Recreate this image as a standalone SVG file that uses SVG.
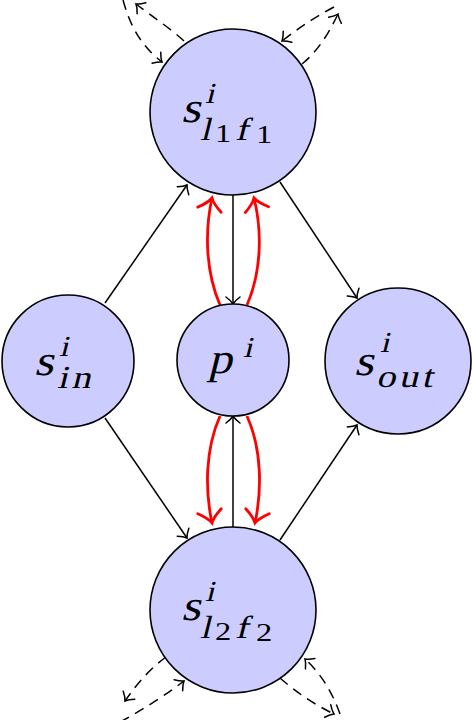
<svg xmlns="http://www.w3.org/2000/svg" width="473" height="720" viewBox="0 0 473 720">
<style>
.node{fill:#ccccff;stroke:#000;stroke-width:1.6}
.b{font-size:43px}
.sp{font-size:29px}
.sb{font-size:32px}
.d{font-size:26px}
.e{fill:none;stroke:#000;stroke-width:1.5}
.r{fill:none;stroke:#ff0000;stroke-width:2.8}
.dash{stroke-dasharray:10 7}
</style>
<defs>
<marker id="ab" markerUnits="userSpaceOnUse" orient="auto" refX="0" refY="0" markerWidth="20" markerHeight="20" overflow="visible">
<path d="M-7,-7 C-4,-3 -1,-0.6 0,0 C-1,0.6 -4,3 -7,7" fill="none" stroke="#000" stroke-width="1.5" stroke-linecap="round"/>
</marker>
<marker id="ar" markerUnits="userSpaceOnUse" orient="auto" refX="0" refY="0" markerWidth="30" markerHeight="30" overflow="visible">
<path d="M-12,-12 C-7,-5 -2,-1 0,0 C-2,1 -7,5 -12,12" fill="none" stroke="#ff0000" stroke-width="2.8" stroke-linecap="round"/>
</marker>
</defs>

<g id="connectors">
<path class="e" d="M105,303 L187,185" marker-end="url(#ab)"/>
<path class="e" d="M105,418 L187,538" marker-end="url(#ab)"/>
<path class="e" d="M280,182 L357,298" marker-end="url(#ab)"/>
<path class="e" d="M280,540 L357,425" marker-end="url(#ab)"/>
<path class="e" d="M233,195 L233,304" marker-end="url(#ab)"/>
<path class="e" d="M233,527 L233,416" marker-end="url(#ab)"/>
<path class="r" d="M220,305 C205,270 205,230 212,198" marker-end="url(#ar)"/>
<path class="r" d="M247,305 C262,270 262,230 254,198" marker-end="url(#ar)"/>
<path class="r" d="M220,416 C205,450 205,490 212,523" marker-end="url(#ar)"/>
<path class="r" d="M247,416 C262,450 262,490 255,523" marker-end="url(#ar)"/>
<path class="e dash" d="M184,41 C170,28 150,15 136,4" marker-end="url(#ab)"/>
<path class="e dash" d="M123,0 C130,25 140,45 162,62" marker-end="url(#ab)"/>
<path class="e dash" d="M334,7 C315,17 300,27 282,41" marker-end="url(#ab)"/>
<path class="e dash" d="M302,64 Q322,48 338,14" marker-end="url(#ab)"/>
<path class="e dash" d="M166,657 Q145,672 125,701" marker-end="url(#ab)"/>
<path class="e dash" d="M120,722 Q155,703 184,681" marker-end="url(#ab)"/>
<path class="e dash" d="M340,714 Q328,680 305,659" marker-end="url(#ab)"/>
<path class="e dash" d="M280,678 Q305,700 334,714" marker-end="url(#ab)"/>
</g>

<g id="s_l1f1" font-family="Liberation Serif, serif">
<circle class="node" cx="233" cy="112" r="83"/>
<text class="b" transform="translate(181,122) skewX(-14) scale(1.15,1)">s</text>
<text class="sp" transform="translate(205,103) skewX(-14) scale(1.15,1)">i</text>
<text class="sb" transform="translate(200,140) skewX(-14) scale(1.15,1)">l</text>
<text class="d" transform="translate(215,142) scale(1.25,1)">1</text>
<text class="sb" transform="translate(235,140) skewX(-14) scale(1.2,1)">f</text>
<text class="d" transform="translate(256,143) scale(1.25,1)">1</text>
</g>

<g id="s_l2f2" font-family="Liberation Serif, serif">
<circle class="node" cx="233" cy="610" r="83"/>
<text class="b" transform="translate(181,620) skewX(-14) scale(1.15,1)">s</text>
<text class="sp" transform="translate(205,601) skewX(-14) scale(1.15,1)">i</text>
<text class="sb" transform="translate(200,638) skewX(-14) scale(1.15,1)">l</text>
<text class="d" transform="translate(215,640) scale(1.25,1)">2</text>
<text class="sb" transform="translate(235,638) skewX(-14) scale(1.2,1)">f</text>
<text class="d" transform="translate(256,641) scale(1.25,1)">2</text>
</g>

<g id="s_in" font-family="Liberation Serif, serif">
<circle class="node" cx="68" cy="361" r="66"/>
<text class="b" transform="translate(34,375) skewX(-14) scale(1.15,1)">s</text>
<text class="sp" transform="translate(59,356) skewX(-14) scale(1.15,1)">i</text>
<text class="sb" transform="translate(57,388) skewX(-14) scale(1.2,1)" letter-spacing="3">in</text>
</g>

<g id="p" font-family="Liberation Serif, serif">
<circle class="node" cx="233" cy="360" r="56"/>
<text class="b" transform="translate(208,373) skewX(-14) scale(1.1,1)">p</text>
<text class="sp" transform="translate(243,357) skewX(-14) scale(1.15,1)">i</text>
</g>

<g id="s_out" font-family="Liberation Serif, serif">
<circle class="node" cx="398" cy="361" r="73"/>
<text class="b" transform="translate(354,375) skewX(-14) scale(1.15,1)">s</text>
<text class="sp" transform="translate(380,352) skewX(-14) scale(1.15,1)">i</text>
<text class="sb" transform="translate(376,387) skewX(-14) scale(1.2,1)" letter-spacing="3">out</text>
</g>
</svg>
